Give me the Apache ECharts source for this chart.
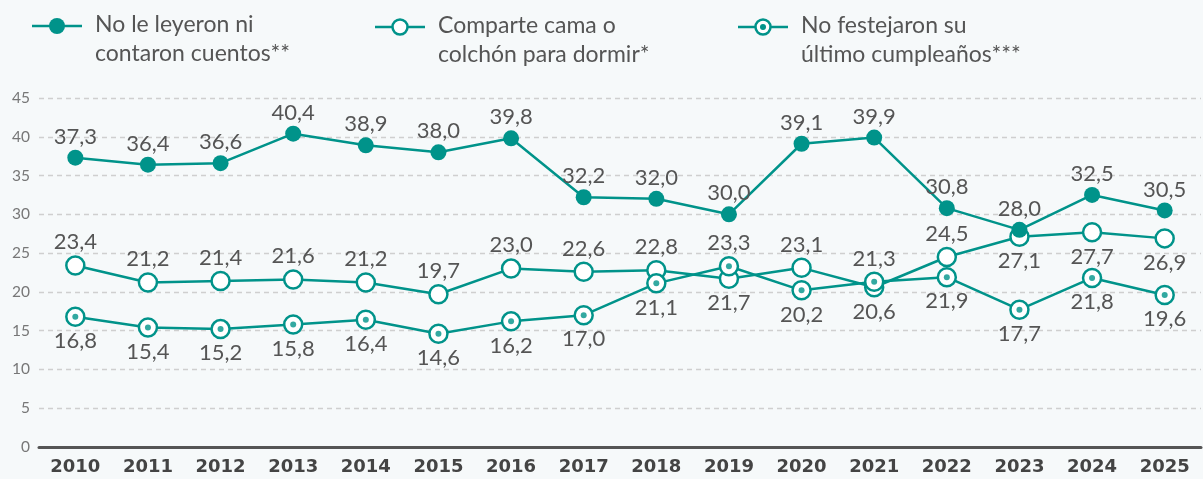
<!DOCTYPE html>
<html>
<head>
<meta charset="utf-8">
<script src="https://cdn.jsdelivr.net/npm/echarts@6/dist/echarts.min.js"></script>
<style>
    html, body { margin: 0; padding: 0; background: #f6f9fa; }
    #chart { width: 1203px; height: 479px; }
</style>
</head>
<body>
<div id="chart"></div>
<script>
// 数据
const years = ['2010', '2011', '2012', '2013', '2014', '2015', '2016', '2017', '2018', '2019', '2020', '2021', '2022', '2023', '2024', '2025'];
const noLeyeron = [37.3, 36.4, 36.6, 40.4, 38.9, 38.0, 39.8, 32.2, 32.0, 30.0, 39.1, 39.9, 30.8, 28.0, 32.5, 30.5];
const comparteCama = [23.4, 21.2, 21.4, 21.6, 21.2, 19.7, 23.0, 22.6, 22.8, 21.7, 23.1, 20.6, 24.5, 27.1, 27.7, 26.9];
const noFestejaron = [16.8, 15.4, 15.2, 15.8, 16.4, 14.6, 16.2, 17.0, 21.1, 23.3, 20.2, 21.3, 21.9, 17.7, 21.8, 19.6];
const seriesNames = ['No le leyeron ni\ncontaron cuentos**', 'Comparte cama o\ncolchón para dormir*', 'No festejaron su\núltimo cumpleaños***'];
const yTicks = [0, 5, 10, 15, 20, 25, 30, 35, 40, 45];

// 标签位置 (样式)
const comparteLabelPos = ['top', 'top', 'top', 'top', 'top', 'top', 'top', 'top', 'top', 'bottom', 'top', 'bottom', 'top', 'bottom', 'bottom', 'bottom'];
const festejaronLabelPos = ['bottom', 'bottom', 'bottom', 'bottom', 'bottom', 'bottom', 'bottom', 'bottom', 'bottom', 'top', 'bottom', 'top', 'bottom', 'bottom', 'bottom', 'bottom'];

const TEAL = '#00938a';
const LABEL_FONT = 'Lato, "Noto Sans", sans-serif';

const fmt = p => p.value.toFixed(1).replace('.', ',');
const labelStyle = {
    show: true,
    formatter: fmt,
    fontFamily: LABEL_FONT,
    fontSize: 22,
    color: '#555'
};

function withPos(values, positions) {
    return values.map((v, i) => ({
        value: v,
        label: { position: positions[i], distance: positions[i] === 'top' ? 2 : 3 }
    }));
}

// 图例 (手工绘制)
function legendItem(x, y, kind, text) {
    const children = [
        { type: 'line', shape: { x1: x, y1: y, x2: x + 50, y2: y }, style: { stroke: TEAL, lineWidth: 2.5 } }
    ];
    if (kind === 'filled') {
        children.push({ type: 'circle', shape: { cx: x + 25, cy: y, r: 8 }, style: { fill: TEAL } });
    } else {
        children.push({ type: 'circle', shape: { cx: x + 25, cy: y, r: 7.5 }, style: { fill: '#fff', stroke: TEAL, lineWidth: 2.5 } });
        if (kind === 'dotted') {
            children.push({ type: 'circle', shape: { cx: x + 25, cy: y, r: 3 }, style: { fill: TEAL } });
        }
    }
    children.push({
        type: 'text', x: x + 63, y: y - 16,
        style: { text: text, fontFamily: LABEL_FONT, fontSize: 23, lineHeight: 29, fill: '#555' }
    });
    return { type: 'group', children: children };
}

const chart = echarts.init(document.getElementById('chart'));
chart.setOption({
    backgroundColor: '#f6f9fa',
    animation: false,
    grid: { left: 39, right: 2, top: 98, bottom: 32, containLabel: false },
    graphic: [
        legendItem(32, 26, 'filled', seriesNames[0]),
        legendItem(375, 27, 'hollow', seriesNames[1]),
        legendItem(738, 27, 'dotted', seriesNames[2])
    ],
    xAxis: {
        type: 'category',
        data: years,
        boundaryGap: true,
        axisLine: { lineStyle: { color: '#555', width: 3 } },
        axisTick: { show: false },
        axisLabel: {
            margin: 11,
            fontFamily: '"DejaVu Sans", sans-serif',
            fontWeight: 'bold',
            fontSize: 18,
            color: '#444'
        }
    },
    yAxis: {
        type: 'value',
        min: yTicks[0],
        max: yTicks[yTicks.length - 1],
        interval: 5,
        axisLine: { show: false },
        axisTick: { show: false },
        axisLabel: { margin: 9, fontFamily: LABEL_FONT, fontSize: 15.5, color: '#777' },
        splitLine: { lineStyle: { color: '#cfcfcf', type: [5, 4], width: 1.3 } }
    },
    series: [
        {
            name: seriesNames[0],
            type: 'line',
            data: noLeyeron,
            symbol: 'circle',
            symbolSize: 16,
            lineStyle: { color: TEAL, width: 2.5 },
            itemStyle: { color: TEAL },
            label: Object.assign({}, labelStyle, { position: 'top', distance: 2 }),
            z: 3
        },
        {
            name: seriesNames[1],
            type: 'line',
            data: withPos(comparteCama, comparteLabelPos),
            symbol: 'circle',
            symbolSize: 18,
            lineStyle: { color: TEAL, width: 2.5 },
            itemStyle: { color: '#fff', borderColor: TEAL, borderWidth: 2.5 },
            label: labelStyle,
            z: 2
        },
        {
            name: seriesNames[2],
            type: 'line',
            data: withPos(noFestejaron, festejaronLabelPos),
            symbol: 'circle',
            symbolSize: 18,
            lineStyle: { color: TEAL, width: 2.5 },
            itemStyle: { color: '#fff', borderColor: TEAL, borderWidth: 2.5 },
            label: labelStyle,
            z: 4
        },
        {
            // 中心圆点
            name: 'dots',
            type: 'scatter',
            data: noFestejaron,
            symbol: 'circle',
            symbolSize: 6,
            itemStyle: { color: TEAL },
            silent: true,
            z: 5
        }
    ]
});
</script>
</body>
</html>
